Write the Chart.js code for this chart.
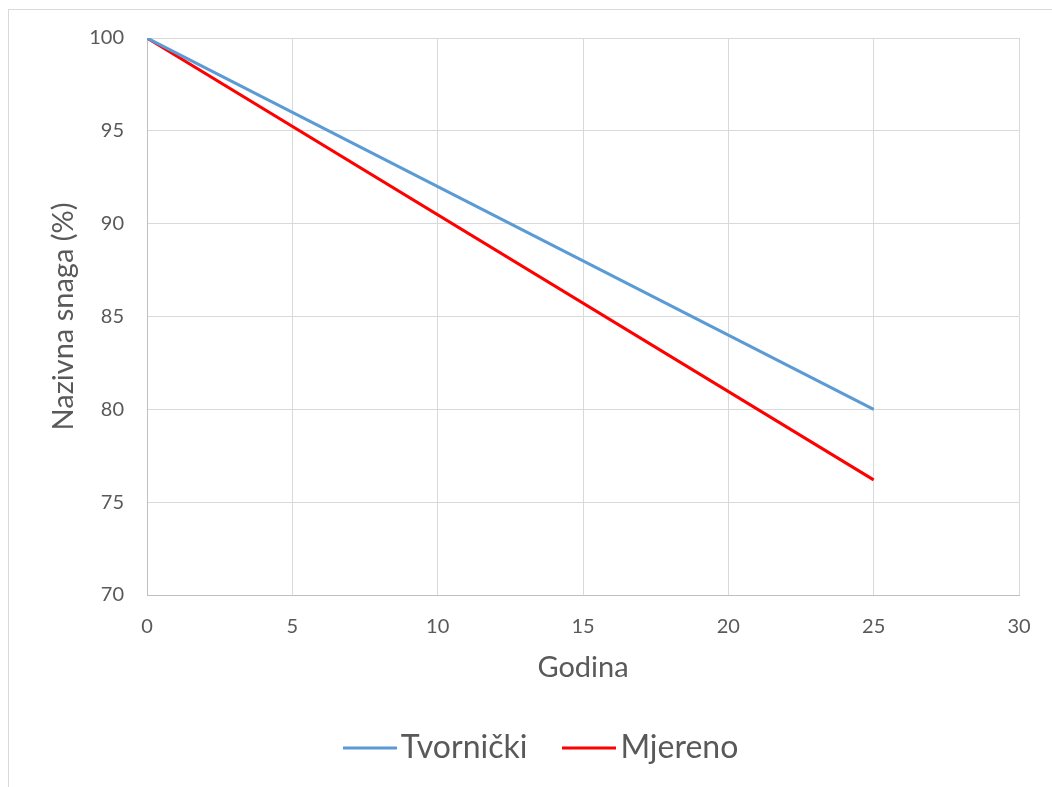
<!DOCTYPE html>
<html>
<head>
<meta charset="utf-8">
<script src="https://cdn.jsdelivr.net/npm/chart.js@4/dist/chart.umd.min.js"></script>
<style>
  html, body { margin: 0; padding: 0; background: #ffffff; }
  #wrap { width: 1052px; height: 787px; position: relative; }
</style>
</head>
<body>
<div id="wrap"><canvas id="c" width="1052" height="787"></canvas></div>
<script>
// ---- data ----
const years = [0, 25];
const tvornicki = [100, 80];
const mjereno = [100, 76.2];
const seriesNames = ['Tvornički', 'Mjereno'];
const xTitle = 'Godina';
const yTitle = 'Nazivna snaga (%)';

const colors = ['#5B9BD5', '#FF0000'];
const FONT = 'Lato, "Open Sans", "DejaVu Sans", sans-serif';
const TEXT = '#595959';

function lineSwatch(color) {
  const cv = document.createElement('canvas');
  cv.width = 54; cv.height = 4;
  const g = cv.getContext('2d');
  g.strokeStyle = color; g.lineWidth = 3;
  g.beginPath(); g.moveTo(0, 2); g.lineTo(54, 2); g.stroke();
  return cv;
}

const frame = {
  id: 'frame',
  beforeDraw(chart) {
    const ctx = chart.ctx;
    ctx.save();
    ctx.fillStyle = '#ffffff';
    ctx.fillRect(0, 0, chart.width, chart.height);
    ctx.strokeStyle = '#d9d9d9';
    ctx.lineWidth = 1;
    ctx.strokeRect(8.5, 9.5, 3000, 3000);
    ctx.restore();
  },
  afterLayout(chart) {
    if (chart.legend) { chart.legend.left += 27; chart.legend.right += 27; }
  }
};

const toPts = (xs, ys) => xs.map((x, i) => ({x: x, y: ys[i]}));

new Chart(document.getElementById('c'), {
  type: 'line',
  data: {
    datasets: [
      { label: seriesNames[0], data: toPts(years, tvornicki), borderColor: colors[0], backgroundColor: colors[0], borderWidth: 3, pointRadius: 0, tension: 0 },
      { label: seriesNames[1], data: toPts(years, mjereno), borderColor: colors[1], backgroundColor: colors[1], borderWidth: 3, pointRadius: 0, tension: 0 }
    ]
  },
  options: {
    responsive: false,
    animation: false,
    devicePixelRatio: 1,
    layout: { padding: { left: 20, top: 38, right: 33, bottom: 13 } },
    plugins: {
      tooltip: { enabled: false },
      legend: {
        position: 'bottom',
        labels: {
          usePointStyle: true,
          pointStyleWidth: 30,
          padding: 47,
          color: TEXT,
          font: { family: FONT, size: 32 },
          generateLabels(chart) {
            return chart.data.datasets.map((d, i) => ({
              text: d.label,
              pointStyle: lineSwatch(d.borderColor),
              fillStyle: d.borderColor,
              strokeStyle: d.borderColor,
              lineWidth: 0,
              fontColor: TEXT,
              hidden: false,
              datasetIndex: i
            }));
          }
        }
      }
    },
    scales: {
      x: {
        type: 'linear',
        min: 0, max: 30,
        afterFit(s) { s.height = 90; },
        ticks: { stepSize: 5, padding: 20, color: TEXT, font: { family: FONT, size: 20 } },
        grid: { color: '#d9d9d9', lineWidth: 1, drawTicks: false },
        border: { color: '#bfbfbf', width: 1 },
        title: { display: true, text: xTitle, color: TEXT, font: { family: FONT, size: 29 }, padding: { top: 0, bottom: 0 } }
      },
      y: {
        type: 'linear',
        min: 70, max: 100,
        afterFit(s) { s.width = 127; },
        ticks: { stepSize: 5, padding: 23, color: TEXT, font: { family: FONT, size: 20 } },
        grid: { color: '#d9d9d9', lineWidth: 1, drawTicks: false },
        border: { color: '#bfbfbf', width: 1 },
        title: { display: true, text: yTitle, color: TEXT, font: { family: FONT, size: 29 }, padding: { top: 26, bottom: 0 } }
      }
    }
  },
  plugins: [frame]
});
</script>
</body>
</html>
